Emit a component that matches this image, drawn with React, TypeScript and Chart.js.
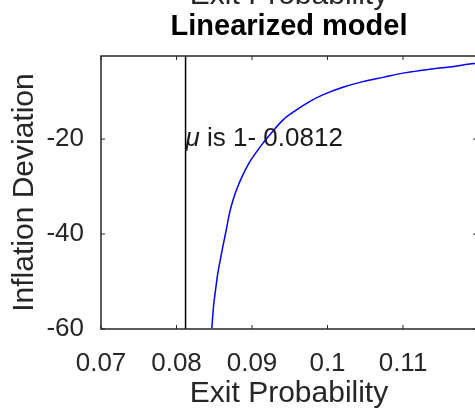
import React, { useEffect, useRef } from 'react';
import { Chart, registerables } from 'chart.js';

Chart.register(...registerables);

// ---- data ----
const exitProbability = [
  0.08468, 0.0849, 0.08517, 0.08547, 0.08579, 0.08613, 0.08658, 0.08702, 0.08755,
  0.08812, 0.08878, 0.08958, 0.09046, 0.09143, 0.09268, 0.09408, 0.09585, 0.09762,
  0.09938, 0.10203, 0.10468, 0.10733, 0.11042, 0.11351, 0.11616, 0.11881, 0.1198,
];
const inflationDeviation = [
  -59.85, -55.3, -51.8, -48.3, -45.5, -42.7, -39.2, -35.6, -32.5,
  -30.0, -27.6, -25.1, -23.0, -20.9, -18.5, -16.0, -13.9, -12.1,
  -10.7, -9.1, -7.9, -7.0, -6.0, -5.3, -4.8, -4.2, -4.0,
];
const muExit = 0.0812;
const xRange = [0.07, 0.1198];
const yRange = [-60, -2.5];
const xTicks = [0.07, 0.08, 0.09, 0.1, 0.11];
const yTicks = [-60, -40, -20];
const titleText = 'Linearized model';
// x-label of the panel above, cut off at the top edge of the picture
const upperPanelLabel = 'Exit Probability';
const xLabel = 'Exit Probability';
const yLabel = 'Inflation Deviation';
const annotationGreek = 'μ';
const annotationRest = ' is 1- 0.0812';
const annotationY = -20;

const FONT = '"Liberation Sans", Arial, Helvetica, sans-serif';
const AXIS_COLOR = '#262626';

const framePlugin = {
  id: 'matlabFrame',
  afterDatasetsDraw(chart: any) {
    const { ctx, chartArea, scales } = chart;
    const { left, right, top, bottom } = chartArea;
    const x = scales.x;
    const y = scales.y;
    ctx.save();
    // label of the panel above (only its lower part shows)
    ctx.fillStyle = AXIS_COLOR;
    ctx.textAlign = 'center';
    ctx.textBaseline = 'alphabetic';
    ctx.font = `30px ${FONT}`;
    ctx.fillText(upperPanelLabel, (left + right) / 2, top - 52);

    // annotation text
    const ax = x.getPixelForValue(muExit);
    const ay = y.getPixelForValue(annotationY);
    ctx.fillStyle = '#1a1a1a';
    ctx.textBaseline = 'middle';
    ctx.textAlign = 'left';
    ctx.font = `italic 26px ${FONT}`;
    ctx.fillText(annotationGreek, ax, ay);
    const w = ctx.measureText(annotationGreek).width;
    ctx.font = `26px ${FONT}`;
    ctx.fillText(annotationRest, ax + w, ay);

    // box
    ctx.strokeStyle = AXIS_COLOR;
    ctx.lineWidth = 1.5;
    ctx.strokeRect(left, top, right - left, bottom - top);
    // inward ticks
    const tl = 4;
    ctx.beginPath();
    xTicks.forEach((v) => {
      const px = x.getPixelForValue(v);
      ctx.moveTo(px, bottom);
      ctx.lineTo(px, bottom - tl);
      ctx.moveTo(px, top);
      ctx.lineTo(px, top + tl);
    });
    yTicks.forEach((v) => {
      const py = y.getPixelForValue(v);
      ctx.moveTo(left, py);
      ctx.lineTo(left + tl, py);
      ctx.moveTo(right, py);
      ctx.lineTo(right - tl, py);
    });
    ctx.lineWidth = 1;
    ctx.stroke();
    ctx.restore();
  },
};

export default function App() {
  const canvasRef = useRef<HTMLCanvasElement | null>(null);

  useEffect(() => {
    const canvas = canvasRef.current;
    if (!canvas) return;
    const curve = exitProbability.map((v, i) => ({ x: v, y: inflationDeviation[i] }));
    const muLine = yRange.map((v) => ({ x: muExit, y: v }));
    const chart = new Chart(canvas, {
      type: 'scatter',
      data: {
        datasets: [
          {
            data: curve,
            showLine: true,
            borderColor: '#0000ff',
            backgroundColor: '#0000ff',
            borderWidth: 1.5,
            pointRadius: 0,
            cubicInterpolationMode: 'monotone',
          },
          {
            data: muLine,
            showLine: true,
            borderColor: '#000000',
            backgroundColor: '#000000',
            borderWidth: 1.5,
            pointRadius: 0,
          },
        ],
      },
      options: {
        animation: false,
        responsive: false,
        devicePixelRatio: 1,
        layout: { padding: { left: 0, right: 23, top: 0, bottom: 0 } },
        plugins: {
          legend: { display: false },
          tooltip: { enabled: false },
          title: {
            display: true,
            text: titleText,
            fullSize: false,
            color: '#000000',
            font: { family: FONT, size: 29, weight: 'bold', lineHeight: 1.1 },
            padding: { top: 50.75, bottom: 13.35 },
          },
        },
        scales: {
          x: {
            type: 'linear',
            position: 'bottom',
            min: xRange[0],
            max: xRange[1],
            afterBuildTicks: (s: any) => {
              s.ticks = xTicks.map((v) => ({ value: v }));
            },
            afterFit: (s: any) => {
              s.height = 81;
            },
            grid: { display: false },
            border: { display: false },
            ticks: {
              color: AXIS_COLOR,
              font: { family: FONT, size: 26 },
              padding: 11,
              maxRotation: 0,
              autoSkip: false,
              callback: (v: any) => String(v),
            },
            title: {
              display: true,
              text: xLabel,
              color: AXIS_COLOR,
              font: { family: FONT, size: 30, lineHeight: 1.1 },
              padding: { top: 0, bottom: 0 },
            },
          },
          y: {
            type: 'linear',
            min: yRange[0],
            max: yRange[1],
            afterBuildTicks: (s: any) => {
              s.ticks = yTicks.map((v) => ({ value: v }));
            },
            afterFit: (s: any) => {
              s.width = 101;
            },
            grid: { display: false },
            border: { display: false },
            ticks: {
              color: AXIS_COLOR,
              font: { family: FONT, size: 26 },
              padding: 9,
              autoSkip: false,
              callback: (v: any) => String(v),
            },
            title: {
              display: true,
              text: yLabel,
              color: AXIS_COLOR,
              font: { family: FONT, size: 30, lineHeight: 1.2 },
              padding: { top: 7, bottom: 0 },
            },
          },
        },
      } as any,
      plugins: [framePlugin],
    });
    return () => chart.destroy();
  }, []);

  return (
    <div
      style={{
        position: 'fixed',
        left: 0,
        top: 0,
        width: 475,
        height: 410,
        overflow: 'hidden',
        background: '#ffffff',
      }}
    >
      <canvas
        ref={canvasRef}
        width={500}
        height={450}
        style={{ position: 'absolute', left: 0, top: -40, width: 500, height: 450 }}
      />
    </div>
  );
}
